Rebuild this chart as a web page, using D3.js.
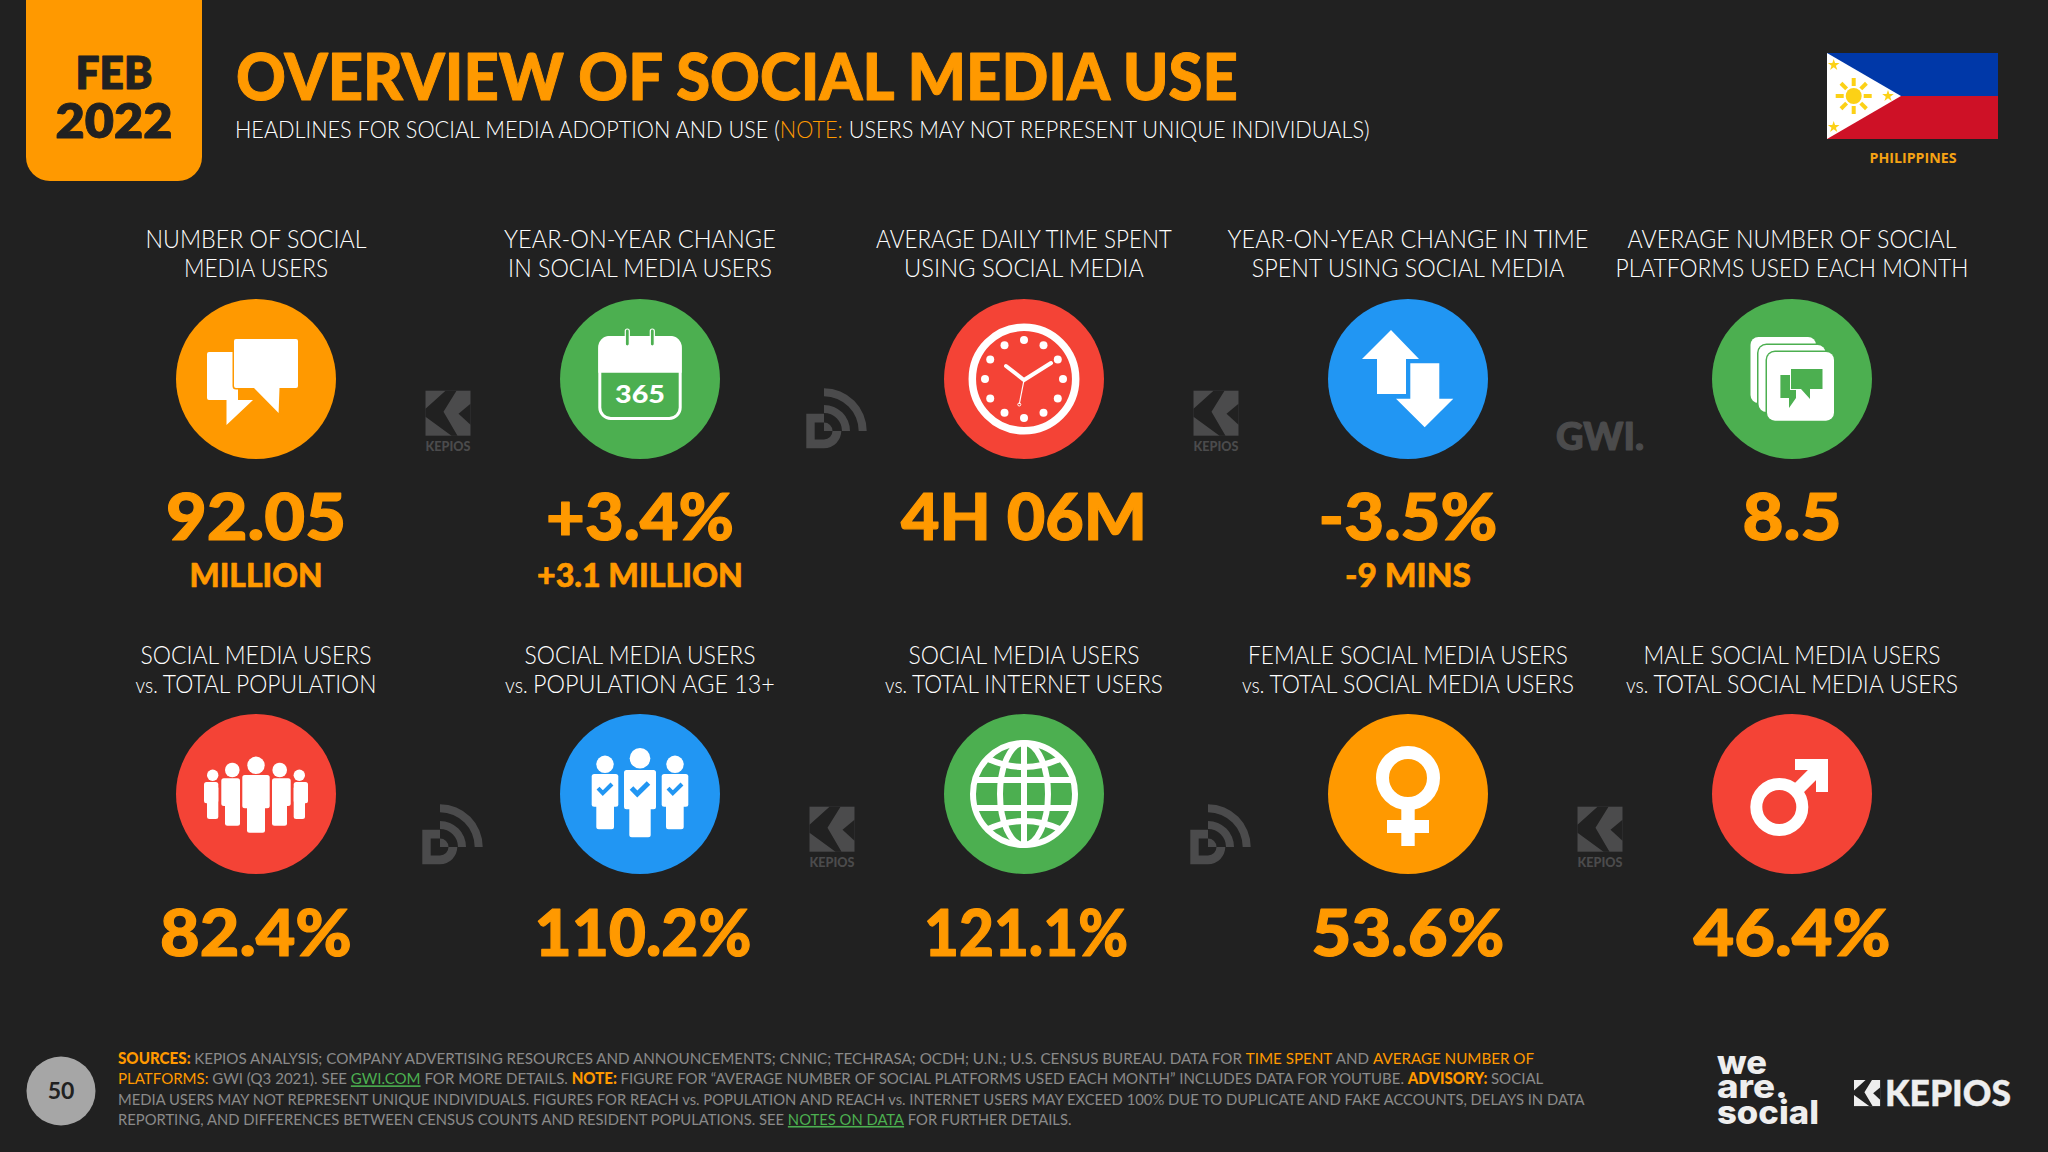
<!DOCTYPE html>
<html>
<head>
<meta charset="utf-8">
<script src="https://cdnjs.cloudflare.com/ajax/libs/d3/7.8.5/d3.min.js"></script>
<style>
html, body { margin: 0; padding: 0; background: #212121; }
svg { display: block; }
text { font-family: Lato, "Open Sans", sans-serif; }
</style>
</head>
<body>
<svg id="chart" width="2048" height="1152"></svg>
<script>
// tiles, top row then bottom row
const columns = [0, 1, 2, 3, 4];
const rows = [0, 1];

const topTitles = [
	["NUMBER OF SOCIAL", "MEDIA USERS"],
	["YEAR-ON-YEAR CHANGE", "IN SOCIAL MEDIA USERS"],
	["AVERAGE DAILY TIME SPENT", "USING SOCIAL MEDIA"],
	["YEAR-ON-YEAR CHANGE IN TIME", "SPENT USING SOCIAL MEDIA"],
	["AVERAGE NUMBER OF SOCIAL", "PLATFORMS USED EACH MONTH"]
];
const topValues = ["92.05", "+3.4%", "4H 06M", "-3.5%", "8.5"];
const topSubs = ["MILLION", "+3.1 MILLION", "", "-9 MINS", ""];
const topColors = ["#ff9900", "#4caf50", "#f44336", "#2196f3", "#4caf50"];
const topIcons = ["chat", "calendar", "clock", "arrows", "cards"];

const bottomTitles = [
	["SOCIAL MEDIA USERS", "vs. TOTAL POPULATION"],
	["SOCIAL MEDIA USERS", "vs. POPULATION AGE 13+"],
	["SOCIAL MEDIA USERS", "vs. TOTAL INTERNET USERS"],
	["FEMALE SOCIAL MEDIA USERS", "vs. TOTAL SOCIAL MEDIA USERS"],
	["MALE SOCIAL MEDIA USERS", "vs. TOTAL SOCIAL MEDIA USERS"]
];
const bottomValues = ["82.4%", "110.2%", "121.1%", "53.6%", "46.4%"];
const bottomSubs = ["", "", "", "", ""];
const bottomColors = ["#f44336", "#2196f3", "#4caf50", "#ff9900", "#f44336"];
const bottomIcons = ["crowd", "team", "globe", "female", "male"];

// logos sitting in the gaps between the circles
const topMarks = ["kepios", "dr", "kepios", "gwi"];
const bottomMarks = ["dr", "kepios", "dr", "kepios"];

// measured text widths, text gets squeezed to these
const topTitleWidths = [[221, 144], [272, 264], [296, 240], [361, 313], [329, 353]];
const topValueWidths = [180, 188, 246, 179, 99];
const topValueShift = [0, 0, 0, 0, 0];
const topSubWidths = [133, 206, 0, 126, 0];
const bottomTitleWidths = [[231, 241], [231, 270], [231, 278], [320, 332], [297, 332]];
const bottomValueWidths = [192, 217, 204, 193, 197];
const bottomValueShift = [0, 3, 2, 0, 0];

const footnote = [
	[["SOURCES: ", "b"], ["KEPIOS ANALYSIS; COMPANY ADVERTISING RESOURCES AND ANNOUNCEMENTS; CNNIC; TECHRASA; OCDH; U.N.; U.S. CENSUS BUREAU. DATA FOR ", "g"], ["TIME SPENT", "o"], [" AND ", "g"], ["AVERAGE NUMBER OF", "o"]],
	[["PLATFORMS:", "o"], [" GWI (Q3 2021). SEE ", "g"], ["GWI.COM", "l"], [" FOR MORE DETAILS. ", "g"], ["NOTE: ", "b"], ["FIGURE FOR \u201CAVERAGE NUMBER OF SOCIAL PLATFORMS USED EACH MONTH\u201D INCLUDES DATA FOR YOUTUBE. ", "g"], ["ADVISORY: ", "b"], ["SOCIAL", "g"]],
	[["MEDIA USERS MAY NOT REPRESENT UNIQUE INDIVIDUALS. FIGURES FOR REACH vs. POPULATION AND REACH vs. INTERNET USERS MAY EXCEED 100% DUE TO DUPLICATE AND FAKE ACCOUNTS, DELAYS IN DATA", "g"]],
	[["REPORTING, AND DIFFERENCES BETWEEN CENSUS COUNTS AND RESIDENT POPULATIONS. SEE ", "g"], ["NOTES ON DATA", "l"], [" FOR FURTHER DETAILS.", "g"]]
];
const footnoteWidths = [1416, 1427, 1467, 954];

const wordmark = ["we", "are.", "social"];
const wordmarkWidths = [50, 71, 102];

const ORANGE = "#ff9900";
const BG = "#212121";
const MARK = "#4b4b4c";

const svg = d3.select("#chart");

var x = d3.scalePoint().domain(columns).range([256, 1792]);
var y = d3.scalePoint().domain(rows).range([379, 794]);
const R = 80;

// squeeze a text to a measured width, scales around its own anchor point
function fit(sel, w) {
	const k = w / sel.node().getComputedTextLength();
	const px = +sel.attr("x") || 0;
	const py = +sel.attr("y") || 0;
	return sel.attr("transform", "translate(" + px + "," + py + ") scale(" + k + ",1) translate(" + (-px) + "," + (-py) + ")");
}

// heavier than Lato Black gets on its own
function heavy(sel, col, sw) {
	return sel.attr("stroke", col).attr("stroke-width", sw).attr("stroke-linejoin", "round");
}

// glyphs, all in local px around the circle centre
function kepiosGlyph(g, k, fill, cut) {
	const s = g.append("g").attr("transform", "scale(" + k + ")");
	s.append("rect").attr("width", 45).attr("height", 45).attr("fill", fill);
	s.append("path").attr("d", "M20,0 L31,0 L18,21 L32,45 L26,45 L0,26 L0,18 Z").attr("fill", cut);
	s.append("path").attr("d", "M45,13 L33,23 L45,34 Z").attr("fill", cut);
}

function drGlyph(g) {
	const ring = (a, b) => d3.arc().innerRadius(a).outerRadius(b).startAngle(0).endAngle(Math.PI / 2)();
	g.append("path").attr("d", ring(34.7, 42.7)).attr("fill", MARK);
	g.append("path").attr("d", ring(18, 26)).attr("fill", MARK);
	g.append("path").attr("fill-rule", "evenodd").attr("fill", MARK)
		.attr("d", "M-17.7,-17.3 H0 V-8.5 A8.5,8.5 0 0 1 8.5,0 H17.3 A17.3,17.3 0 0 1 0,17.3 H-17.7 Z " +
			"M-9.3,-8.5 H0 V0 H8.5 A8.5,8.5 0 0 1 0,8.5 H-9.3 Z");
}

function drawFlag(g) {
	const FX = 1827, FY = 53, FW = 171, FH = 86;
	g.append("rect").attr("x", FX).attr("y", FY).attr("width", FW).attr("height", FH / 2).attr("fill", "#0038a8");
	g.append("rect").attr("x", FX).attr("y", FY + FH / 2).attr("width", FW).attr("height", FH / 2).attr("fill", "#ce1126");
	g.append("path").attr("d", "M" + FX + "," + FY + " L" + (FX + 74) + "," + (FY + 43) + " L" + FX + "," + (FY + FH) + " Z").attr("fill", "#fff");
	const star = d3.symbol().type(d3.symbolStar).size(42);
	[[1833.7, 65], [1833.7, 127], [1888, 96]].forEach(p => {
		g.append("path").attr("d", star()).attr("fill", "#fcd116").attr("transform", "translate(" + p[0] + "," + p[1] + ")");
	});
	g.append("circle").attr("cx", 1853.7).attr("cy", 96).attr("r", 8).attr("fill", "#fcd116");
	d3.range(8).forEach(i => {
		g.append("rect").attr("x", -2).attr("y", -18).attr("width", 4).attr("height", 8).attr("fill", "#fcd116")
			.attr("transform", "translate(1853.7,96) rotate(" + i * 45 + ")");
	});
}

function person(g, hx, hy, hr, x0, x1, y0, y1, lx0, lx1, ly1) {
	g.append("circle").attr("cx", hx).attr("cy", hy).attr("r", hr).attr("fill", "#fff");
	g.append("rect").attr("x", x0).attr("y", y0).attr("width", x1 - x0).attr("height", y1 - y0).attr("rx", 2.5).attr("fill", "#fff");
	g.append("rect").attr("x", lx0).attr("y", y0 + 4).attr("width", lx1 - lx0).attr("height", ly1 - y0 - 4).attr("rx", 2.5).attr("fill", "#fff");
}

const icons = {
	chat(g, c) {
		g.append("path").attr("d", "M-47,-27 H-18 V21 H-3 L-29.5,46 V21 H-47 A2,2 0 0 1 -49,19 V-25 A2,2 0 0 1 -47,-27 Z").attr("fill", "#fff");
		g.append("path").attr("d", "M-20,-40 H40 A2,2 0 0 1 42,-38 V7 A2,2 0 0 1 40,9 H23.5 L22.6,34 L-2,9 H-20 A2,2 0 0 1 -22,7 V-38 A2,2 0 0 1 -20,-40 Z")
			.attr("fill", "#fff").attr("stroke", c).attr("stroke-width", 3).attr("paint-order", "stroke");
	},
	calendar(g, c) {
		g.append("rect").attr("x", -40.2).attr("y", -41.5).attr("width", 80.4).attr("height", 81).attr("rx", 11)
			.attr("fill", c).attr("stroke", "#fff").attr("stroke-width", 3);
		g.append("path").attr("d", "M-41.7,-6.3 V-32 A11,11 0 0 1 -30.7,-43 H30.7 A11,11 0 0 1 41.7,-32 V-6.3 Z").attr("fill", "#fff");
		[-12.7, 12.3].forEach(v => {
			g.append("rect").attr("x", v - 2).attr("y", -50).attr("width", 4).attr("height", 17).attr("rx", 2)
				.attr("fill", c).attr("stroke", "#fff").attr("stroke-width", 1.2);
		});
		fit(g.append("text").attr("y", 24).attr("text-anchor", "middle")
			.attr("font-size", 25).attr("font-weight", 900).attr("fill", "#fff").text("365"), 50);
	},
	clock(g) {
		g.append("circle").attr("r", 51.7).attr("fill", "none").attr("stroke", "#fff").attr("stroke-width", 7.5);
		d3.range(12).forEach(i => {
			const a = i * Math.PI / 6;
			g.append("circle").attr("cx", 39 * Math.sin(a)).attr("cy", -39 * Math.cos(a)).attr("r", 4).attr("fill", "#fff");
		});
		g.append("path").attr("d", "M-18,-13 L0,1 L27,-16").attr("fill", "none").attr("stroke", "#fff")
			.attr("stroke-width", 4).attr("stroke-linecap", "round");
		g.append("path").attr("d", "M0,1 L-4.7,25").attr("stroke", "#fff").attr("stroke-width", 1.2);
		g.append("circle").attr("cx", -4.7).attr("cy", 25.5).attr("r", 1.5).attr("fill", "none").attr("stroke", "#fff");
	},
	arrows(g, c) {
		g.append("path").attr("d", "M-17,-49 L11,-20 H-2 V15 H-31 V-20 H-46 Z").attr("fill", "#fff");
		g.append("path").attr("d", "M2.3,-15.7 H31.3 V19.7 H45.3 L16.7,48.3 L-12,19.7 H2.3 Z")
			.attr("fill", "#fff").attr("stroke", c).attr("stroke-width", 4).attr("paint-order", "stroke");
	},
	cards(g, c) {
		[[-41.5, -42, 65.5, 66], [-33.5, -34, 67, 67], [-25, -27, 67, 68.7]].forEach(r => {
			g.append("rect").attr("x", r[0]).attr("y", r[1]).attr("width", r[2]).attr("height", r[3]).attr("rx", 8)
				.attr("fill", "#fff").attr("stroke", c).attr("stroke-width", 3).attr("paint-order", "stroke");
		});
		g.append("path").attr("d", "M-11.6,-4 H4 V19 H4 L-3,29 V19 H-11.6 Z").attr("fill", c);
		g.append("path").attr("d", "M-1,-10 H30.5 V10 H18 V20 L9,10 H-1 Z").attr("fill", c).attr("stroke", "#fff").attr("stroke-width", 2).attr("paint-order", "stroke");
	},
	crowd(g) {
		person(g, -43.3, -18.7, 5.7, -52, -37.7, -12, 9.3, -49, -37.7, 25);
		person(g, 43.3, -18.7, 5.7, 37.7, 52, -12, 9.3, 37.7, 49, 25);
		person(g, -23.7, -24, 7.3, -34.7, -16, -15.7, 12, -31, -16, 31.7);
		person(g, 23.7, -24, 7.3, 16, 34.7, -15.7, 12, 16, 31, 31.7);
		person(g, 0, -28.7, 8.7, -13.7, 13.7, -19, 14.3, -9, 9, 38.7);
	},
	team(g, c) {
		person(g, -35, -29.7, 8.7, -48.3, -21.7, -20, 12.7, -43.7, -26, 35.3);
		person(g, 35, -29.7, 8.7, 21.7, 48.3, -20, 12.7, 26, 43.7, 35.3);
		person(g, 0, -35.7, 10.3, -16, 16, -24, 15.3, -10.7, 10.7, 43.3);
		[-35, 0, 35].forEach((v, i) => {
			const k = i === 1 ? 1 : 0.82;
			g.append("path").attr("transform", "translate(" + v + ",-5) scale(" + k + ")")
				.attr("d", "M-8.5,-1 L-2.7,5 L8.5,-6").attr("fill", "none").attr("stroke", c).attr("stroke-width", 5);
		});
	},
	globe(g) {
		const line = sel => sel.attr("fill", "none").attr("stroke", "#fff").attr("stroke-width", 6);
		line(g.append("circle").attr("r", 51));
		line(g.append("ellipse").attr("rx", 24).attr("ry", 51));
		line(g.append("path").attr("d", "M0,-51 V51 M-49,-14 H49 M-49,14 H49"));
		line(g.append("path").attr("d", "M-38,-36 Q0,-18 38,-36 M-38,36 Q0,18 38,36"));
	},
	female(g) {
		g.append("circle").attr("cy", -16).attr("r", 25.5).attr("fill", "none").attr("stroke", "#fff").attr("stroke-width", 13);
		g.append("rect").attr("x", -6.7).attr("y", 10).attr("width", 13.4).attr("height", 42).attr("fill", "#fff");
		g.append("rect").attr("x", -21).attr("y", 26).attr("width", 42).attr("height", 13).attr("fill", "#fff");
	},
	male(g) {
		g.append("circle").attr("cx", -12.7).attr("cy", 13).attr("r", 23).attr("fill", "none").attr("stroke", "#fff").attr("stroke-width", 12);
		g.append("path").attr("d", "M3,-2 L28,-27").attr("stroke", "#fff").attr("stroke-width", 13);
		g.append("path").attr("d", "M3,-35 H36 V-2 H24 V-24 H3 Z").attr("fill", "#fff");
	}
};

svg.append("rect").attr("width", 2048).attr("height", 1152).attr("fill", BG);

// date badge
svg.append("path")
	.attr("d", "M26,0 H202 V157 A24,24 0 0 1 178,181 H50 A24,24 0 0 1 26,157 Z")
	.attr("fill", ORANGE);
heavy(fit(svg.append("text").attr("x", 114).attr("y", 89).attr("text-anchor", "middle")
	.attr("font-size", 46).attr("font-weight", 800).attr("fill", BG).text("FEB"), 77), BG, 0.8);
heavy(fit(svg.append("text").attr("x", 114).attr("y", 138).attr("text-anchor", "middle")
	.attr("font-size", 48).attr("font-weight", 800).attr("fill", BG).text("2022"), 117), BG, 0.8);

// header
heavy(fit(svg.append("text").attr("x", 236).attr("y", 100)
	.attr("font-size", 64).attr("font-weight", 900).attr("fill", ORANGE)
	.text("OVERVIEW OF SOCIAL MEDIA USE"), 1002), ORANGE, 1);
var sub = svg.append("text").attr("x", 235).attr("y", 138)
	.attr("font-size", 24).attr("font-weight", 300).attr("fill", "#fff");
sub.append("tspan").text("HEADLINES FOR SOCIAL MEDIA ADOPTION AND USE (");
sub.append("tspan").attr("fill", ORANGE).text("NOTE:");
sub.append("tspan").text(" USERS MAY NOT REPRESENT UNIQUE INDIVIDUALS)");
fit(sub, 1135);

drawFlag(svg.append("g"));
fit(svg.append("text").attr("x", 1913).attr("y", 163).attr("text-anchor", "middle")
	.style("font-family", "'Open Sans'").attr("font-size", 14).attr("font-weight", 700)
	.attr("fill", "#f5a314").text("PHILIPPINES"), 87);

// tiles
const tiles = [];
columns.forEach(c => {
	tiles.push({ col: c, row: 0, title: topTitles[c], value: topValues[c], sub: topSubs[c], color: topColors[c], icon: topIcons[c], tw: topTitleWidths[c], vw: topValueWidths[c], vs: topValueShift[c], sw: topSubWidths[c], base: [248, 277], vy: 540, sy: 587 });
	tiles.push({ col: c, row: 1, title: bottomTitles[c], value: bottomValues[c], sub: bottomSubs[c], color: bottomColors[c], icon: bottomIcons[c], tw: bottomTitleWidths[c], vw: bottomValueWidths[c], vs: bottomValueShift[c], sw: 0, base: [664.5, 693], vy: 956, sy: 0 });
});

const tile = svg.selectAll("g.tile").data(tiles).enter().append("g").attr("class", "tile");

tile.each(function(d) {
	const g = d3.select(this);
	const cx = x(d.col);
	d.title.forEach((t, i) => {
		const line = g.append("text").attr("x", cx).attr("y", d.base[i]).attr("text-anchor", "middle")
			.attr("font-size", 25).attr("font-weight", 300).attr("fill", "#fff");
		if (t.startsWith("vs. ")) {
			line.append("tspan").attr("font-size", 21).text("vs. ");
			line.append("tspan").text(t.slice(4));
		} else {
			line.text(t);
		}
		fit(line, d.tw[i]);
	});
	g.append("circle").attr("cx", cx).attr("cy", y(d.row)).attr("r", R).attr("fill", d.color);
	const ic = g.append("g").attr("transform", "translate(" + cx + "," + y(d.row) + ")");
	icons[d.icon](ic, d.color);
	heavy(fit(g.append("text").attr("x", cx + d.vs).attr("y", d.vy).attr("text-anchor", "middle")
		.attr("font-size", 65).attr("font-weight", 900).attr("fill", ORANGE).text(d.value), d.vw), ORANGE, 1.2);
	if (d.sub) {
		heavy(fit(g.append("text").attr("x", cx).attr("y", d.sy).attr("text-anchor", "middle")
			.attr("font-size", 32).attr("font-weight", 900).attr("fill", ORANGE).text(d.sub), d.sw), ORANGE, 0.6);
	}
});

// gap logos
[topMarks, bottomMarks].forEach((list, r) => {
	list.forEach((m, c) => {
		const g = svg.append("g").attr("transform", "translate(" + x(c) + "," + y(r) + ")");
		if (m === "kepios") {
			kepiosGlyph(g.append("g").attr("transform", "translate(169.5," + (r ? 12.7 : 11.7) + ")"), 1, MARK, BG);
			fit(g.append("text").attr("x", 192).attr("y", r ? 73 : 72).attr("text-anchor", "middle")
				.attr("font-size", 13).attr("font-weight", 900).attr("fill", MARK).text("KEPIOS"), 45);
		} else if (m === "dr") {
			drGlyph(g.append("g").attr("transform", "translate(184," + (r ? 53 : 52) + ")"));
		} else {
			heavy(fit(g.append("text").attr("x", 192).attr("y", 71).attr("text-anchor", "middle")
				.attr("font-size", 37).attr("font-weight", 900).attr("fill", MARK).text("GWI."), 88), MARK, 1.2);
		}
	});
});

// footer
svg.append("circle").attr("cx", 61).attr("cy", 1091).attr("r", 34.5).attr("fill", "#a6a6a6");
svg.append("text").attr("x", 61).attr("y", 1099).attr("text-anchor", "middle")
	.attr("font-size", 23).attr("font-weight", 700).attr("fill", BG).text("50");

const partFill = { g: "#8a8a8a", o: ORANGE, b: ORANGE, l: "#4caf50" };
footnote.forEach((segs, i) => {
	const line = svg.append("text").attr("x", 118).attr("y", 1064 + i * 20.3)
		.attr("font-size", 16).attr("font-weight", 400);
	segs.forEach(s => {
		line.append("tspan")
			.attr("fill", partFill[s[1]])
			.attr("font-weight", s[1] === "b" ? 900 : 400)
			.style("text-decoration", s[1] === "l" ? "underline dotted" : null)
			.text(s[0]);
	});
	fit(line, footnoteWidths[i]);
});

wordmark.forEach((w, i) => {
	fit(svg.append("text").attr("x", 1717).attr("y", [1074, 1098, 1124][i])
		.style("font-family", "Inter").attr("font-size", 33).attr("font-weight", 800)
		.attr("fill", "#eeeeee").text(w), wordmarkWidths[i]);
});
kepiosGlyph(svg.append("g").attr("transform", "translate(1854,1080)"), 0.58, "#eeeeee", BG);
heavy(fit(svg.append("text").attr("x", 1885).attr("y", 1106)
	.attr("font-size", 36).attr("font-weight", 900).attr("fill", "#eeeeee").text("KEPIOS"), 126), "#eeeeee", 0.4);
</script>
</body>
</html>
